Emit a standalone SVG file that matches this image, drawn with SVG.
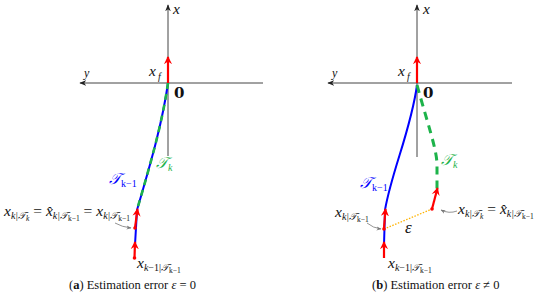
<svg xmlns="http://www.w3.org/2000/svg" width="550" height="296" viewBox="0 0 550 296">
<defs>
<marker id="ax" viewBox="0 0 10 10" refX="9" refY="5" markerWidth="7" markerHeight="7" orient="auto" markerUnits="userSpaceOnUse"><path d="M0,1 L10,5 L0,9 L3,5 Z" fill="#222"/></marker>
<marker id="ra" viewBox="0 0 10 10" refX="8" refY="5" markerWidth="9" markerHeight="9" orient="auto" markerUnits="userSpaceOnUse"><path d="M0,0.5 L9,5 L0,9.5 L3,5 Z" fill="#f00"/></marker>
<marker id="ga" viewBox="0 0 10 10" refX="9" refY="5" markerWidth="5" markerHeight="5" orient="auto" markerUnits="userSpaceOnUse"><path d="M0,1 L10,5 L0,9 L3,5 Z" fill="#777"/></marker>
</defs>
<style>
.axis{stroke:#444;stroke-width:1;fill:none}
.red{stroke:#f00;stroke-width:2.2;fill:none;marker-end:url(#ra)}
.blue{stroke:#00f;stroke-width:2;fill:none}
.gdash{stroke:#1db34a;stroke-width:2.6;fill:none;stroke-dasharray:6 5}
.gdash2{stroke:#1db34a;stroke-width:3;fill:none;stroke-dasharray:8 6}
.gray{stroke:#777;stroke-width:0.8;fill:none;marker-end:url(#ga)}
.dot{fill:#f00}
.m{font-family:"Liberation Serif","Times New Roman",serif;font-style:italic;font-size:15.5px;fill:#111}
.s{font-size:10px}
.ss{font-size:7.5px}
.up{font-style:normal}
.z{font-family:"DejaVu Serif",serif;font-weight:bold;font-size:15px;fill:#111}
.cap{font-family:"Liberation Serif","Times New Roman",serif;font-size:12.5px;fill:#111}
.bl{fill:#00f}
.gr{fill:#1db34a}
</style>
<g id="axes-a">
<line class="axis" x1="168" y1="156" x2="168" y2="5" marker-end="url(#ax)"/>
<line class="axis" x1="263" y1="83" x2="80" y2="83" marker-end="url(#ax)"/>
</g>
<g id="axes-b">
<line class="axis" x1="417" y1="157" x2="417" y2="5" marker-end="url(#ax)"/>
<line class="axis" x1="512" y1="83" x2="328" y2="83" marker-end="url(#ax)"/>
</g>
<g id="connectors">
<path class="blue" d="M168,83 C162,125 150,165 137,210 L135,245"/>
<path class="gdash" d="M168,83 C162,125 150,165 137,210"/>
<path class="red" d="M168,83 L168,57"/>
<path class="red" d="M135,228 L137.5,209"/>
<path class="red" d="M134.5,258 L135,242"/>
<circle class="dot" cx="135" cy="228" r="1.8"/>
<circle class="dot" cx="134.5" cy="258" r="1.8"/>
<path class="gray" d="M115,223 Q122,227 131,228"/>

<path class="blue" d="M417,85 C411,130 392,170 385,210 L384,245"/>
<path class="gdash2" d="M417,85 C428,125 437,150 437,165 L437,192"/>
<path class="red" d="M417,83 L417,57"/>
<path class="red" d="M384,228 L385.5,209"/>
<path class="red" d="M384,258 L384,242"/>
<path class="red" d="M432,209 L437.5,188"/>
<line x1="384" y1="229" x2="432" y2="209" stroke="#ffb300" stroke-width="1.3" stroke-dasharray="1.5 1.5"/>
<circle class="dot" cx="384" cy="229" r="1.8"/>
<circle class="dot" cx="432" cy="209" r="1.8"/>
<path class="gray" d="M367,223 Q373,228 381,229"/>
<path class="gray" d="M457,211 Q449,214 441,210"/>
</g>
<g id="labels-a">
<text class="m" x="173" y="14">x</text>
<text class="m" x="84" y="77" style="font-size:12px">y</text>
<text class="m" x="149" y="76">x<tspan class="s" dx="2" dy="4">f</tspan></text>
<text class="z" x="174" y="98">0</text>
<text class="m gr" x="156" y="168">𝒯<tspan class="s" dy="3">k</tspan></text>
<text class="m bl" x="109" y="184">𝒯<tspan class="s up" dy="3">k−1</tspan></text>
<text class="m" x="4" y="216">x<tspan class="s" dy="3">k|𝒯</tspan><tspan class="ss" dy="2">k</tspan><tspan class="up" dy="-5"> = </tspan>x̂<tspan class="s" dy="3">k|𝒯</tspan><tspan class="ss up" dy="2">k−1</tspan><tspan class="up" dy="-5"> = </tspan>x<tspan class="s" dy="3">k|𝒯</tspan><tspan class="ss up" dy="2">k−1</tspan></text>
<text class="m" x="137" y="268">x<tspan class="s" dy="3">k<tspan class="up">−1|</tspan>𝒯</tspan><tspan class="ss up" dy="2">k−1</tspan></text>
<text class="cap" x="69" y="289">(<tspan font-weight="bold">a</tspan>) Estimation error <tspan font-style="italic">ε</tspan> = 0</text>
</g>
<g id="labels-b">
<text class="m" x="423" y="14">x</text>
<text class="m" x="332" y="77" style="font-size:12px">y</text>
<text class="m" x="398" y="76">x<tspan class="s" dx="2" dy="4">f</tspan></text>
<text class="z" x="423" y="98">0</text>
<text class="m gr" x="441" y="165">𝒯<tspan class="s" dy="3">k</tspan></text>
<text class="m bl" x="360" y="188">𝒯<tspan class="s up" dy="3">k−1</tspan></text>
<text class="m" x="335" y="217">x<tspan class="s" dy="3">k|𝒯</tspan><tspan class="ss up" dy="2">k−1</tspan></text>
<text class="m" x="405" y="233" style="font-size:17px">ε</text>
<text class="m" x="458" y="214">x<tspan class="s" dy="3">k|𝒯</tspan><tspan class="ss" dy="2">k</tspan><tspan class="up" dy="-5"> = </tspan>x̂<tspan class="s" dy="3">k|𝒯</tspan><tspan class="ss up" dy="2">k−1</tspan></text>
<text class="m" x="388" y="268">x<tspan class="s" dy="3">k<tspan class="up">−1|</tspan>𝒯</tspan><tspan class="ss up" dy="2">k−1</tspan></text>
<text class="cap" x="372" y="289">(<tspan font-weight="bold">b</tspan>) Estimation error <tspan font-style="italic">ε</tspan> ≠ 0</text>
</g>
</svg>
